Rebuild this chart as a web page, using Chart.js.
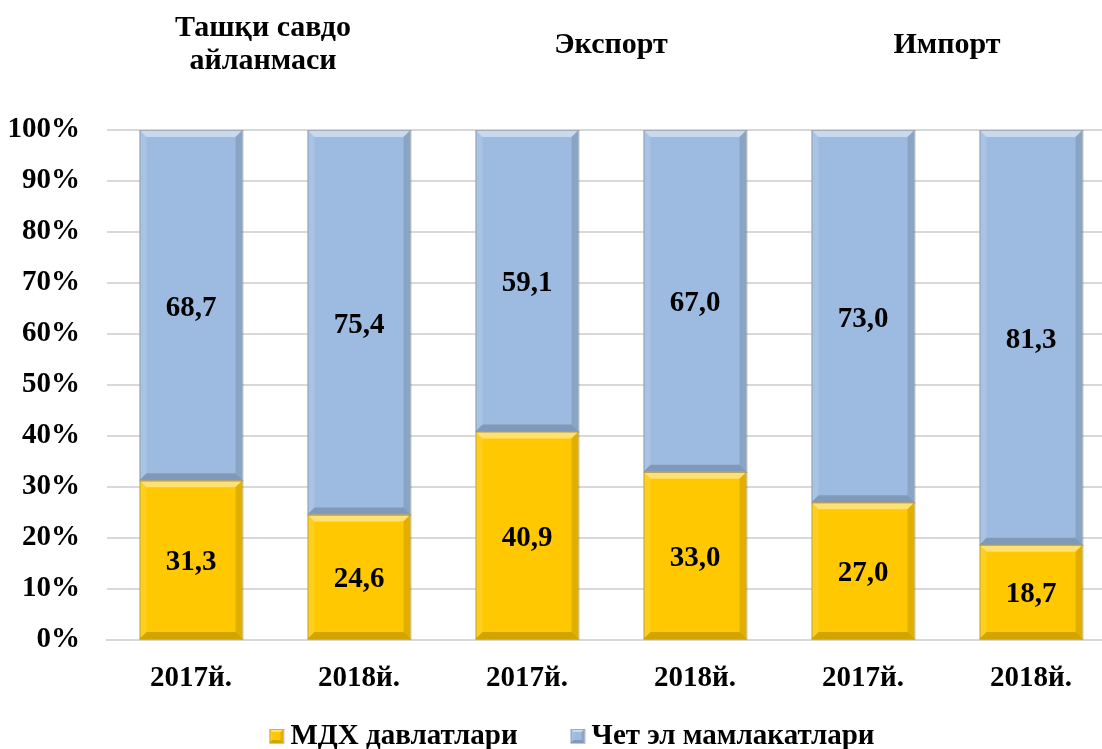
<!DOCTYPE html>
<html>
<head>
<meta charset="utf-8">
<script src="https://cdn.jsdelivr.net/npm/chart.js@4/dist/chart.umd.min.js"></script>
<style>
  html, body { margin: 0; padding: 0; background: #fff; overflow: hidden; }
  #wrap { width: 1116px; height: 749px; }
</style>
</head>
<body>
<div id="wrap"><canvas id="tradeChart"></canvas></div>
<script>
// маълумотлар
const years = ['2017й.', '2018й.', '2017й.', '2018й.', '2017й.', '2018й.'];
const cisValues = [31.3, 24.6, 40.9, 33.0, 27.0, 18.7];     // МДХ давлатлари
const otherValues = [68.7, 75.4, 59.1, 67.0, 73.0, 81.3];   // Чет эл мамлакатлари
const seriesNames = ['МДХ давлатлари', 'Чет эл мамлакатлари'];
const groupTitles = [['Ташқи савдо', 'айланмаси'], ['Экспорт'], ['Импорт']];

const serif = "'Liberation Serif', 'Times New Roman', serif";

// ҳажмли тўртбурчак чизиш (устунлар ва легенда учун)
function drawBevel(ctx, l, t, w, h, e) {
    const r = l + w, b = t + h;
    const quad = (pts, color) => {
        ctx.beginPath();
        ctx.moveTo(pts[0][0], pts[0][1]);
        for (let k = 1; k < pts.length; k++) ctx.lineTo(pts[k][0], pts[k][1]);
        ctx.closePath();
        ctx.fillStyle = color;
        ctx.fill();
    };
    quad([[l, t], [r, t], [r - e, t + e], [l + e, t + e]], 'rgba(255,255,255,0.45)');
    quad([[l, t], [l + e, t + e], [l + e, b - e], [l, b]], 'rgba(255,255,255,0.12)');
    quad([[r, t], [r, b], [r - e, b - e], [r - e, t + e]], 'rgba(0,0,0,0.12)');
    quad([[l, b], [l + e, b - e], [r - e, b - e], [r, b]], 'rgba(0,0,0,0.18)');
    ctx.strokeStyle = 'rgba(90,90,90,0.35)';
    ctx.lineWidth = 1;
    ctx.strokeRect(l + 0.5, t + 0.5, w, h);
}

// гуруҳ сарлавҳалари ва легенда
const titleLegendPlugin = {
    id: 'titleLegend',
    afterDraw(chart) {
        const ctx = chart.ctx;
        const xs = chart.scales.x;
        ctx.save();
        ctx.font = 'bold 30px ' + serif;
        ctx.fillStyle = '#000';
        ctx.textAlign = 'center';
        ctx.textBaseline = 'middle';
        groupTitles.forEach((lines, i) => {
            let cx = (xs.getPixelForValue(i * 2) + xs.getPixelForValue(i * 2 + 1)) / 2;
            if (i === 0) cx -= 12;
            const startY = lines.length > 1 ? 28 : 45;
            lines.forEach((line, j) => ctx.fillText(line, cx, startY + j * 33));
        });

        // легенда
        ctx.font = 'bold 29px ' + serif;
        const box = 14, gapText = 7, gapItem = 53, ly = 736;
        const widths = seriesNames.map(n => box + gapText + ctx.measureText(n).width);
        const total = widths.reduce((a, b) => a + b, 0) + gapItem * (widths.length - 1);
        let x = 572 - total / 2;
        ctx.textAlign = 'left';
        seriesNames.forEach((name, i) => {
            ctx.fillStyle = chart.data.datasets[i].backgroundColor;
            ctx.fillRect(x, ly - box / 2, box, box);
            drawBevel(ctx, x, ly - box / 2, box, box, 3);
            ctx.fillStyle = '#000';
            ctx.fillText(name, x + box + gapText, ly + 1);
            x += widths[i] + gapItem;
        });
        ctx.restore();
    }
};

// устунларга ҳажм берувчи қирралар ва қийматлар
const bevelLabelPlugin = {
    id: 'bevelLabels',
    afterDatasetsDraw(chart) {
        const ctx = chart.ctx;
        ctx.save();
        chart.data.datasets.forEach((ds, di) => {
            const meta = chart.getDatasetMeta(di);
            meta.data.forEach((bar, i) => {
                const p = bar.getProps(['x', 'y', 'base', 'width'], true);
                const l = p.x - p.width / 2;
                const t = Math.min(p.y, p.base), b = Math.max(p.y, p.base);
                drawBevel(ctx, l, t, p.width, b - t, 7);

                const v = ds.data[i];
                ctx.font = 'bold 29px ' + serif;
                ctx.fillStyle = '#000';
                ctx.textAlign = 'center';
                ctx.textBaseline = 'middle';
                ctx.fillText(v.toFixed(1).replace('.', ','), p.x, (t + b) / 2 + 3);
            });
        });
        ctx.restore();
    }
};

const ctx = document.getElementById('tradeChart').getContext('2d');
new Chart(ctx, {
    type: 'bar',
    data: {
        labels: years,
        datasets: [
            {
                label: seriesNames[0],
                data: cisValues,
                backgroundColor: '#FFC800',
                borderWidth: 0,
                barPercentage: 0.613,
                categoryPercentage: 1
            },
            {
                label: seriesNames[1],
                data: otherValues,
                backgroundColor: '#9DBBE1',
                borderWidth: 0,
                barPercentage: 0.613,
                categoryPercentage: 1
            }
        ]
    },
    options: {
        responsive: true,
        maintainAspectRatio: false,
        animation: false,
        layout: { padding: { top: 130, left: 8, right: 1, bottom: 53 } },
        plugins: {
            legend: { display: false },
            tooltip: { enabled: false }
        },
        scales: {
            x: {
                stacked: true,
                grid: { display: false, drawTicks: false },
                border: { color: '#d9d9d9', width: 2 },
                afterFit: scale => { scale.height = 56; },
                ticks: {
                    color: '#000',
                    font: { family: serif, size: 29, weight: 'bold' },
                    padding: 21,
                    maxRotation: 0
                }
            },
            y: {
                stacked: true,
                min: 0,
                max: 100,
                grid: { color: '#d9d9d9', lineWidth: 2, drawTicks: false },
                border: { display: false },
                afterFit: scale => { scale.width = 99; },
                ticks: {
                    stepSize: 10,
                    color: '#000',
                    padding: 27,
                    font: { family: serif, size: 29, weight: 'bold' },
                    callback: v => v + '%'
                }
            }
        }
    },
    plugins: [titleLegendPlugin, bevelLabelPlugin]
});
</script>
</body>
</html>
